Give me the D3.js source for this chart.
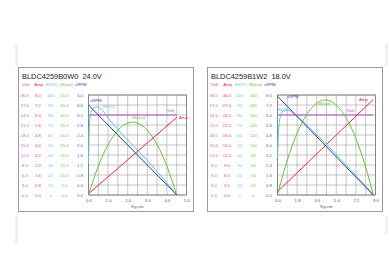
<!DOCTYPE html>
<html>
<head>
<meta charset="utf-8">
<script src="https://cdn.jsdelivr.net/npm/d3@7"></script>
<style>
  body { margin: 0; background: #fff; }
  svg { display: block; font-family: "Liberation Sans", Arial, sans-serif; }
</style>
</head>
<body>
<svg width="389" height="280"></svg>
<script>
// column headers + colours
const seriesNames = ["Volt", "Amp", "Eff(%)", "W(out)", "sRPM"];
const seriesColors = ["#c04cc8", "#e8283c", "#5cc8d4", "#6cc040", "#3440a0"];
const tickColors = ["#b868c4", "#e04858", "#70cad4", "#78c450", "#5c64a8"];

// left chart
const leftTitle = "BLDC4259B0W0  24.0V";
const leftVoltTicks = ["36.0","27.0","24.0","21.0","18.0","15.0","12.0","9.0","6.0","3.0","0.0"];
const leftAmpTicks = ["8.0","7.2","6.4","5.6","4.8","4.0","3.2","2.4","1.6","0.8","0.0"];
const leftEffTicks = ["100","90","80","70","60","50","40","30","20","10","0"];
const leftWTicks = ["50.0","45.0","40.0","35.0","30.0","25.0","20.0","15.0","10.0","5.0","0.0"];
const leftRpmTicks = ["4.0","3.6","3.2","2.8","2.4","2.0","1.6","1.2","0.8","0.4","0.0"];
const leftXTicks = ["0.0","1.0","2.0","3.0","4.0","5.0"];
const leftVolt = [[0, 24.0], [4.5, 24.0]];
const leftAmp = [[0, 0.1], [4.5, 6.2]];
const leftEff = [[0,32],[0.03,60],[0.08,78],[0.15,84],[0.3,87.5],[0.45,88],[0.7,85],[1.0,77],[1.5,65.5],
  [2.0,55],[2.5,45],[3.0,34.5],[3.5,23.5],[4.0,12],[4.5,0]];
const leftWout = [[0,0],[0.5,14.4],[1.0,25.2],[1.5,32.4],[2.0,36.0],[2.25,36.5],[2.5,36.0],
  [3.0,32.4],[3.5,25.2],[4.0,14.4],[4.5,0]];
const leftRpm = [[0, 3.6], [4.5, 0]];

// right chart
const rightTitle = "BLDC4259B1W2  18.0V";
const rightVoltTicks = ["36.0","27.0","24.0","21.0","18.0","15.0","12.0","9.0","6.0","3.0","0.0"];
const rightAmpTicks = ["36.0","27.0","24.0","21.0","18.0","15.0","12.0","9.0","6.0","3.0","0.0"];
const rightEffTicks = ["100","90","80","70","60","50","40","30","20","10","0"];
const rightWTicks = ["200","180","160","140","120","100","80","60","40","20","0"];
const rightRpmTicks = ["8.0","7.2","6.4","5.6","4.8","4.0","3.2","2.4","1.6","0.8","0.0"];
const rightXTicks = ["0.0","1.8","3.6","5.4","7.2","9.0"];
const rightVolt = [[0, 24.0], [8.8, 24.0]];
const rightAmp = [[0, 1.0], [8.8, 32.0]];
const rightEff = [[0,38],[0.1,65],[0.25,78],[0.5,84],[0.9,85],[1.3,83],[2.0,77],[3.0,66.5],
  [4.0,56],[5.0,45],[6.0,33.5],[7.0,22],[8.0,10],[8.8,0]];
const rightWout = [[0,0],[0.55,44.5],[1.1,83],[2.2,142.5],[3.3,178],[4.4,190],[5.5,178],
  [6.6,142.5],[7.7,83],[8.25,44.5],[8.8,0]];
const rightRpm = [[0, 7.9], [8.8, 0]];

const svg = d3.select("svg");

// faint page edges
[[15, 44, 22], [15, 216, 28], [385, 44, 22], [385, 216, 18]].forEach(r => {
  svg.append("rect").attr("x", r[0]).attr("y", r[1]).attr("width", 3).attr("height", r[2]).attr("fill", "#f1f1f1");
});

function drawPanel(x0, y0, title, tickSets, xTicks, series, labels) {
  const W = 175, H = 144;
  const pl = 70.5, pt = 28, pw = 98, ph = 100;
  const g = svg.append("g").attr("transform", `translate(${x0},${y0})`);
  g.append("rect").attr("x", 0.5).attr("y", 0.5).attr("width", W).attr("height", H)
    .attr("fill", "#fff").attr("stroke", "#9a9a9a");

  g.append("text").attr("x", 4).attr("y", 11.5).attr("font-size", 7.4).attr("fill", "#222")
    .attr("xml:space", "preserve").text(title);

  const headX = [4, 16.3, 28, 42, 57];
  const colX = [6.8, 20, 32.5, 46.5, 62];
  seriesNames.forEach((n, i) => {
    g.append("text").attr("x", headX[i]).attr("y", 18.5).attr("font-size", 4.3)
      .attr("fill", seriesColors[i]).text(n);
  });

  const xMax = +xTicks[xTicks.length - 1];
  const x = d3.scaleLinear().domain([0, xMax]).range([pl, pl + pw]);
  const rowY = d3.range(11).map(i => pt + i * ph / 10);

  // one scale per series built from its own tick labels
  const yScales = tickSets.map(t => d3.scaleLinear().domain(t.map(Number)).range(rowY));

  tickSets.forEach((t, c) => {
    g.selectAll(null).data(t).join("text")
      .attr("x", colX[c]).attr("y", (d, i) => rowY[i]).attr("dy", "0.35em")
      .attr("text-anchor", "middle").attr("font-size", 4.3).attr("fill", tickColors[c])
      .text(d => d);
  });

  // grid
  const grid = g.append("g").attr("stroke", "#a0a0a0").attr("stroke-width", 0.6);
  grid.selectAll(null).data(d3.range(0, 11)).join("line")
    .attr("x1", pl).attr("x2", pl + pw)
    .attr("y1", i => pt + i * ph / 10).attr("y2", i => pt + i * ph / 10);
  grid.selectAll(null).data(d3.range(0, 11)).join("line")
    .attr("y1", pt).attr("y2", pt + ph)
    .attr("x1", i => x(i * xMax / 10)).attr("x2", i => x(i * xMax / 10));
  g.append("rect").attr("x", pl).attr("y", pt).attr("width", pw).attr("height", ph)
    .attr("fill", "none").attr("stroke", "#777").attr("stroke-width", 0.8);

  const xAxis = g.append("g").attr("transform", `translate(0,${pt + ph})`)
    .call(d3.axisBottom(x).tickValues(xTicks.map(Number)).tickSize(0).tickPadding(4)
      .tickFormat((d, i) => xTicks[i]));
  xAxis.select(".domain").remove();
  xAxis.selectAll("text").attr("font-size", 4.3).attr("fill", "#555").attr("font-family", null);

  g.append("text").attr("x", pl + pw / 2).attr("y", pt + ph + 13).attr("text-anchor", "middle")
    .attr("font-size", 4.3).attr("fill", "#555").text("Kg-cm");

  series.forEach((s, i) => {
    const line = d3.line().x(d => x(d[0])).y(d => yScales[i](d[1])).curve(d3.curveMonotoneX);
    g.append("path").datum(s).attr("d", line).attr("fill", "none")
      .attr("stroke", seriesColors[i]).attr("stroke-width", 1);
  });

  labels.forEach((p, i) => {
    g.append("text").attr("x", p[0]).attr("y", p[1]).attr("font-size", 4.3)
      .attr("fill", seriesColors[i]).text(seriesNames[i]);
  });
}

drawPanel(18, 67, leftTitle,
  [leftVoltTicks, leftAmpTicks, leftEffTicks, leftWTicks, leftRpmTicks], leftXTicks,
  [leftVolt, leftAmp, leftEff, leftWout, leftRpm],
  [[149, 45], [161, 52], [85, 41], [114, 52], [72, 35]]);

drawPanel(207, 67, rightTitle,
  [rightVoltTicks, rightAmpTicks, rightEffTicks, rightWTicks, rightRpmTicks], rightXTicks,
  [rightVolt, rightAmp, rightEff, rightWout, rightRpm],
  [[140, 45], [152, 34], [71, 44], [111, 38], [80, 31]]);
</script>
</body>
</html>
